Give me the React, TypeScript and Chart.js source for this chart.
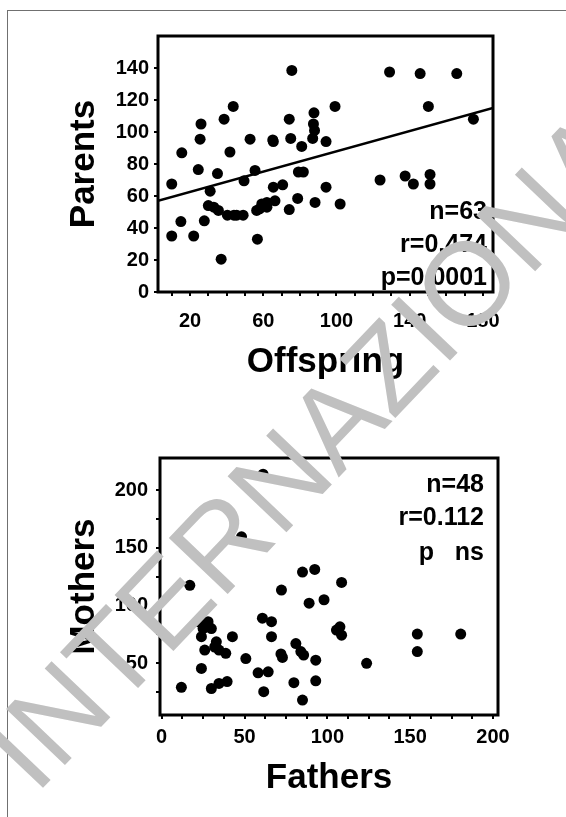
import React, { useEffect, useRef } from 'react';
import { Chart, registerables } from 'chart.js';

Chart.register(...registerables);

const FONT = '"Liberation Sans", Arial, sans-serif';

// ---- Top chart: Offspring vs Parents ----
const OFFSPRING_X = [10, 15.5, 10, 15, 22, 24.5, 25.5, 26, 27.8, 31, 30, 35, 35.5, 37, 38.6, 40.4, 41.8, 43.6, 45.5, 49, 49.5, 52.8, 55.5, 56.8, 56.4, 59.2, 62, 65.2, 65.5, 66.4, 70.6, 74.2, 74.2, 75.6, 75, 78.8, 79.2, 81.9, 81, 87, 87.4, 87.7, 88.3, 94.3, 94.3, 99.2, 102, 123.8, 129, 137.5, 142, 145.7, 150.2, 151.1, 151.1, 165.7, 174.8, 33, 44, 58, 65.5, 88, 62];
const PARENTS_Y = [67.5, 87, 35, 44, 35, 76.5, 95.5, 105, 44.5, 63, 54, 74, 51, 20.5, 108, 48, 87.5, 116, 48, 48, 69.5, 95.5, 76, 33, 51, 55, 53, 95, 65.5, 57, 67, 51.5, 108, 138.5, 96, 58.5, 75, 75, 91, 96, 105, 112, 56, 94, 65.5, 116, 55, 70, 137.5, 72.5, 67.5, 136.5, 116, 73.5, 67.5, 136.5, 108, 53, 48, 52, 94, 101, 56];
const FIT_X = [2.5, 185.5];
const FIT_Y = [57, 115];
const TOP_X_TICKS = [10, 20, 30, 40, 50, 60, 70, 80, 90, 100, 110, 120, 130, 140, 150, 160, 170, 180];
const TOP_X_LABELS = [20, 60, 100, 140, 180];
const TOP_Y_TICKS = [0, 20, 40, 60, 80, 100, 120, 140];
const TOP_STATS = ['n=63', 'r=0.474', 'p=0.0001'];

// ---- Bottom chart: Fathers vs Mothers ----
const FATHERS_X = [61.2, 48.2, 17, 72.3, 85, 92.4, 89, 98, 108.6, 22, 28, 24, 26, 33, 34.6, 38.7, 42.7, 24, 11.9, 30, 34.6, 39.5, 50.8, 60.8, 66.3, 66.3, 58.2, 64.3, 61.6, 72.9, 81, 85.7, 93, 79.8, 93, 85, 105.5, 107.6, 108.6, 123.7, 154.3, 154.3, 180.5, 25, 30, 32, 84, 72];
const MOTHERS_Y = [214, 159.6, 117.5, 113.4, 129, 131.3, 102, 105, 120, 86, 86, 73, 61.3, 68.5, 61.3, 58.5, 73, 45.4, 29, 28, 32.4, 34, 54, 89, 86, 73, 41.6, 42.5, 25.2, 55, 67, 57, 52.6, 33, 34.7, 18, 78.7, 81.5, 74.3, 49.8, 75.2, 60, 75.2, 80, 80, 64, 60, 58];
const BOT_X_TICKS = [0, 12.5, 25, 37.5, 50, 62.5, 75, 87.5, 100, 112.5, 125, 137.5, 150, 162.5, 175, 187.5, 200];
const BOT_X_LABELS = [0, 50, 100, 150, 200];
const BOT_Y_TICKS = [25, 50, 75, 100, 125, 150, 175, 200];
const BOT_Y_LABELS = [50, 100, 150, 200];
const BOT_STATS = ['n=48', 'r=0.112', 'p   ns'];

const WATERMARK = 'INTERNAZIONALE';

const boxPlugin = {
  id: 'box',
  afterDatasetsDraw(chart: any) {
    const { ctx, chartArea: a } = chart;
    ctx.save();
    ctx.strokeStyle = '#000';
    ctx.lineWidth = 3;
    ctx.strokeRect(a.left, a.top, a.right - a.left, a.bottom - a.top);
    ctx.restore();
  },
};

const statsPlugin = {
  id: 'stats',
  afterDraw(chart: any, _args: any, opts: any) {
    const { ctx, chartArea: a } = chart;
    ctx.save();
    ctx.fillStyle = '#000';
    ctx.font = `bold 25px ${FONT}`;
    ctx.textAlign = 'right';
    ctx.textBaseline = 'alphabetic';
    opts.lines.forEach((t: string, i: number) => {
      const base = opts.fromBottom ? a.bottom + opts.baselines[i] : a.top + opts.baselines[i];
      ctx.fillText(t, a.right - opts.right, base);
    });
    ctx.restore();
  },
};

function makeConfig(p: any) {
  const datasets: any[] = [
    {
      data: p.xs.map((x: number, i: number) => ({ x, y: p.ys[i] })),
      pointRadius: 5.5,
      pointBackgroundColor: '#000',
      pointBorderWidth: 0,
      showLine: false,
    },
  ];
  if (p.fitX) {
    datasets.push({
      data: p.fitX.map((x: number, i: number) => ({ x, y: p.fitY[i] })),
      showLine: true,
      borderColor: '#000',
      borderWidth: 2.5,
      pointRadius: 0,
    });
  }
  const tickFont = { family: FONT, size: 20, weight: 'bold' as const };
  const titleFont = { family: FONT, size: 35, weight: 'bold' as const };
  const grid = { drawOnChartArea: false, drawTicks: true, tickLength: 4, color: '#000', lineWidth: 2 };
  return {
    type: 'scatter',
    data: { datasets },
    options: {
      animation: false,
      responsive: false,
      maintainAspectRatio: false,
      layout: { padding: p.padding },
      plugins: {
        legend: { display: false },
        tooltip: { enabled: false },
        stats: p.stats,
      },
      scales: {
        x: {
          type: 'linear',
          min: p.xMin,
          max: p.xMax,
          afterFit: (s: any) => { s.height = p.xHeight; },
          afterBuildTicks: (s: any) => { s.ticks = p.xTicks.map((v: number) => ({ value: v })); },
          ticks: {
            autoSkip: false,
            maxRotation: 0,
            padding: p.xPad,
            color: '#000',
            font: tickFont,
            callback: (v: number) => (p.xLabels.includes(v) ? String(v) : ''),
          },
          grid,
          border: { display: false },
          title: { display: true, text: p.xTitle, color: '#000', font: titleFont, padding: { top: 4, bottom: 4 } },
        },
        y: {
          type: 'linear',
          min: p.yMin,
          max: p.yMax,
          afterFit: (s: any) => { s.width = p.yWidth; },
          afterBuildTicks: (s: any) => { s.ticks = p.yTicks.map((v: number) => ({ value: v })); },
          ticks: {
            autoSkip: false,
            padding: p.yPad,
            color: '#000',
            font: tickFont,
            callback: (v: number) => (p.yLabels.includes(v) ? String(v) : ''),
          },
          grid,
          border: { display: false },
          title: { display: true, text: p.yTitle, color: '#000', font: titleFont, padding: { top: 4, bottom: 4 } },
        },
      },
    },
    plugins: [boxPlugin, statsPlugin],
  } as any;
}

export default function App() {
  const topRef = useRef<HTMLCanvasElement>(null);
  const botRef = useRef<HTMLCanvasElement>(null);
  const wmRef = useRef<HTMLCanvasElement>(null);

  useEffect(() => {
    const top = new Chart(topRef.current!, makeConfig({
      xs: OFFSPRING_X, ys: PARENTS_Y, fitX: FIT_X, fitY: FIT_Y,
      xMin: 2.5, xMax: 185.5, yMin: 0, yMax: 160,
      xTicks: TOP_X_TICKS, xLabels: TOP_X_LABELS, yTicks: TOP_Y_TICKS, yLabels: TOP_Y_TICKS,
      xTitle: 'Offspring', yTitle: 'Parents',
      padding: { top: 36, right: 73, left: 59, bottom: 13 },
      xHeight: 95, yWidth: 99, xPad: 13, yPad: 5,
      stats: { lines: TOP_STATS, right: 6, fromBottom: true, baselines: [-73, -40, -7] },
    }));
    const bot = new Chart(botRef.current!, makeConfig({
      xs: FATHERS_X, ys: MOTHERS_Y,
      xMin: -1, xMax: 203, yMin: 5, yMax: 228,
      xTicks: BOT_X_TICKS, xLabels: BOT_X_LABELS, yTicks: BOT_Y_TICKS, yLabels: BOT_Y_LABELS,
      xTitle: 'Fathers', yTitle: 'Mothers',
      padding: { top: 58, right: 68, left: 59, bottom: 14 },
      xHeight: 88, yWidth: 101, xPad: 6, yPad: 8,
      stats: { lines: BOT_STATS, right: 14, fromBottom: false, baselines: [34, 67, 102] },
    }));

    const wm = wmRef.current!;
    const ctx = wm.getContext('2d')!;
    ctx.clearRect(0, 0, wm.width, wm.height);
    ctx.save();
    ctx.translate(35.6, 795.7);
    ctx.rotate((-46.4 * Math.PI) / 180);
    ctx.font = `118px ${FONT}`;
    ctx.fillStyle = '#c0c0c0';
    ctx.textBaseline = 'alphabetic';
    ctx.fillText(WATERMARK, 0, 0);
    ctx.restore();

    return () => {
      top.destroy();
      bot.destroy();
    };
  }, []);

  return (
    <div style={{ position: 'absolute', left: 0, top: 0, width: 566, height: 817, overflow: 'hidden', background: '#fff' }}>
      <div style={{ position: 'absolute', left: 7, top: 10, width: 700, height: 900, borderLeft: '1px solid #707070', borderTop: '1px solid #707070' }} />
      <canvas ref={topRef} width={566} height={400} style={{ position: 'absolute', left: 0, top: 0, display: 'block' }} />
      <canvas ref={botRef} width={566} height={417} style={{ position: 'absolute', left: 0, top: 400, display: 'block' }} />
      <canvas ref={wmRef} width={566} height={817} style={{ position: 'absolute', left: 0, top: 0, display: 'block', pointerEvents: 'none' }} />
    </div>
  );
}
